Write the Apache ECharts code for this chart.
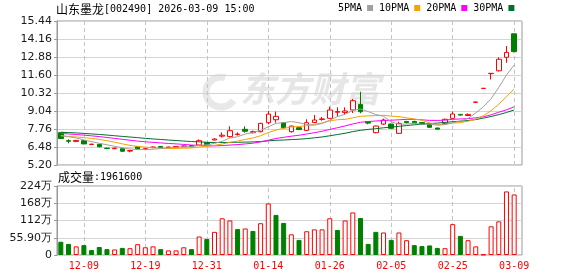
<!DOCTYPE html>
<html><head><meta charset="utf-8">
<script src="https://cdn.jsdelivr.net/npm/echarts@6/dist/echarts.min.js"></script>
<style>html,body{margin:0;padding:0;background:#fff}#c{width:578px;height:276px}</style>
</head><body><div id="c"></div>
<script>
const stockName = '山东墨龙';
const stockCode = '002490';
const timeStamp = '2026-03-09 15:00';
const maNames = ['5PMA', '10PMA', '20PMA', '30PMA'];
const maPeriods = [5, 10, 20, 30];
const priceTicks = { min: 5.20, max: 15.44, step: 1.28 };
const volumeTicks = { min: 0, max: 2236000, step: 559000 };

const dates = ['12-04','12-05','12-08','12-09','12-10','12-11','12-12','12-15','12-16','12-17',
  '12-18','12-19','12-22','12-23','12-24','12-25','12-26','12-29','12-30','12-31',
  '01-05','01-06','01-07','01-08','01-09','01-12','01-13','01-14','01-15','01-16',
  '01-19','01-20','01-21','01-22','01-23','01-26','01-27','01-28','01-29','01-30',
  '02-02','02-03','02-04','02-05','02-06','02-09','02-10','02-11','02-12','02-13',
  '02-24','02-25','02-26','02-27','03-02','03-03','03-04','03-05','03-06','03-09'];
const labelDates = ['12-09','12-19','12-31','01-14','01-26','02-05','02-25','03-09'];

const opens = [7.50,6.93,6.88,6.93,6.66,6.67,6.40,6.36,6.36,6.19,
  6.50,6.32,6.44,6.52,6.44,6.48,6.50,6.58,6.62,6.79,
  6.98,7.25,7.22,7.36,7.74,7.50,7.57,8.21,8.42,8.21,
  7.57,7.85,7.66,8.22,8.44,8.52,8.95,8.94,9.11,9.51,
  8.28,7.50,8.11,8.11,7.45,8.30,8.30,8.22,8.11,7.83,
  8.16,8.52,8.80,8.72,9.66,10.65,11.70,11.90,12.86,14.53];
const closes = [7.08,6.89,6.95,6.70,6.68,6.50,6.37,6.40,6.18,6.23,
  6.34,6.36,6.48,6.45,6.48,6.52,6.56,6.50,6.93,6.64,
  7.05,7.32,7.64,7.40,7.60,7.57,8.16,8.82,8.66,7.85,
  7.97,7.72,8.21,8.40,8.48,9.11,9.00,9.04,9.77,8.99,
  8.18,7.97,8.40,7.81,8.16,8.22,8.20,8.10,7.88,7.75,
  8.45,8.83,8.75,8.80,9.68,10.65,11.72,12.72,13.21,13.26];
const highs = [7.52,7.03,6.98,6.98,6.72,6.68,6.43,6.43,6.37,6.27,
  6.53,6.38,6.52,6.55,6.50,6.55,6.60,6.60,7.02,6.82,
  7.10,7.52,7.95,7.52,7.95,7.65,8.20,9.05,9.00,8.25,
  8.00,7.88,8.45,8.76,8.62,9.35,9.30,9.30,9.90,10.41,
  8.32,8.00,8.50,8.15,8.28,8.33,8.35,8.25,8.13,7.85,
  8.50,9.00,8.82,8.86,9.68,10.65,11.72,12.86,13.66,14.53];
const lows = [7.05,6.74,6.82,6.68,6.63,6.46,6.32,6.33,6.12,6.10,
  6.30,6.28,6.40,6.42,6.40,6.45,6.48,6.48,6.60,6.60,
  6.95,7.15,7.15,7.30,7.50,7.45,7.52,8.10,8.21,7.80,
  7.50,7.68,7.62,8.18,8.35,8.50,8.64,8.80,8.90,8.88,
  8.10,7.45,8.05,7.78,7.42,8.15,8.18,8.05,7.85,7.72,
  8.12,8.50,8.72,8.68,9.60,10.65,11.28,11.85,12.47,13.22];
// closes of the 29 sessions before the window, estimated from where the MA lines start at the left edge
const priorCloses = [7.55,7.70,7.82,7.75,7.60,7.68,7.80,7.62,7.58,7.70,
  7.85,7.72,7.60,7.66,7.55,7.70,7.62,7.50,7.58,7.52,
  7.40,7.28,7.20,7.25,7.17,7.30,7.42,7.38,7.30];
const volumes = [430000,360000,280000,320000,160000,260000,190000,180000,230000,220000,
  350000,250000,280000,190000,150000,150000,250000,190000,600000,520000,
  750000,1190000,1120000,840000,860000,780000,1030000,1670000,1300000,1040000,
  670000,490000,770000,830000,830000,1190000,810000,1120000,1380000,1200000,
  360000,750000,730000,490000,730000,480000,320000,290000,310000,230000,
  220000,1000000,620000,480000,280000,15000,930000,1090000,2060000,1961600];

const UP = '#ff0000', DOWN = '#008000';
const maColors = ['#a0a0a0', '#f4a300', '#ff00ff', '#00702f'];

const allCloses = priorCloses.concat(closes);
function movingAverage(n) {
  const off = priorCloses.length;
  return closes.map((_, i) => {
    let s = 0;
    for (let k = 0; k < n; k++) s += allCloses[off + i - k];
    return +(s / n).toFixed(3);
  });
}
const candleData = dates.map((_, i) => [opens[i], closes[i], lows[i], highs[i]]);
const volData = volumes.map((v, i) => {
  const prev = i === 0 ? priorCloses[priorCloses.length - 1] : closes[i - 1];
  const up = closes[i] >= prev;
  return { value: v, itemStyle: up ? { color: '#ffffff', borderColor: UP, borderWidth: 1 } : { color: DOWN, borderColor: DOWN, borderWidth: 1 } };
});
const isLabelIdx = (idx) => labelDates.indexOf(dates[idx]) >= 0;

const mono = "'DejaVu Sans Mono', monospace";
const cjk = "'Noto Sans CJK SC', sans-serif";
const volFmt = (v) => {
  if (v === 0) return '0';
  const w = v / 10000;
  return (w < 100 ? w.toFixed(2) : String(Math.round(w))) + '万';
};

const chart = echarts.init(document.getElementById('c'), null, { renderer: 'canvas' });
const hiddenValX = (g) => ({ type: 'value', gridIndex: g, min: 0, max: 1, show: false });
const vLines = (xi, yi) => ({
  type: 'line', name: 'vgrid' + xi, xAxisIndex: xi, yAxisIndex: yi, data: [], z: 1, silent: true,
  markLine: { silent: true, z: 1, symbol: ['none', 'none'], label: { show: false }, animation: false,
    lineStyle: { color: '#c4c4c4', type: [4, 3], width: 1 },
    data: labelDates.map((d) => ({ xAxis: d })) }
});
const frameY = (g, t, fmt) => ({
  type: 'value', gridIndex: g, min: t.min, max: t.max, interval: t.step,
  axisLine: { show: true, lineStyle: { color: '#999' } },
  axisTick: { show: true, length: 3, lineStyle: { color: '#999' } },
  axisLabel: { show: true, margin: 5, color: '#1a1a1a', fontFamily: "'DejaVu Sans', sans-serif", fontSize: 11, formatter: fmt, showMinLabel: true, showMaxLabel: true, hideOverlap: false },
  splitLine: { show: true, lineStyle: { color: '#d4d4d4', width: 1 } }
});
const richTitle = { a: { fontFamily: cjk, fontSize: 12, fontWeight: 'normal', color: '#000', lineHeight: 14 }, b: { fontFamily: mono, fontSize: 10, fontWeight: 'normal', color: '#000', lineHeight: 14 } };

const option = {
  animation: false,
  backgroundColor: '#ffffff',
  title: [
    { left: 56, top: 2, padding: 0, text: '{a|' + stockName + '}{b|[' + stockCode + '] ' + timeStamp + '}',
      textStyle: { fontWeight: 'normal', rich: richTitle } },
    { left: 58, top: 170, padding: 0, text: '{a|成交量}{b|:' + volumes[volumes.length - 1] + '}',
      textStyle: { fontWeight: 'normal', rich: richTitle } }
  ],
  legend: {
    left: 338, top: 3, orient: 'horizontal', icon: 'rect', align: 'right',
    itemWidth: 6, itemHeight: 6, itemGap: 6, padding: 0,
    data: maNames,
    textStyle: { fontFamily: mono, fontSize: 10, color: '#000' }
  },
  graphic: [
    { type: 'arc', z: 0, shape: { cx: 221, cy: 92, r: 15, startAngle: 0.6, endAngle: 5.0 }, style: { stroke: '#e8e8e8', lineWidth: 7, fill: null } },
    { type: 'text', z: 0, left: 240, top: 71, style: { text: '东方财富', fill: '#e6e6e6', font: 'italic bold 35px ' + cjk } }
  ],
  grid: [
    { left: 57, top: 21, width: 465, height: 144, show: true, borderColor: '#999', borderWidth: 1, containLabel: false, outerBoundsMode: 'none' },
    { left: 57, top: 21, width: 461, height: 144, containLabel: false, outerBoundsMode: 'none' },
    { left: 57, top: 186, width: 465, height: 69, show: true, borderColor: '#999', borderWidth: 1, containLabel: false, outerBoundsMode: 'none' },
    { left: 57, top: 186, width: 461, height: 69, containLabel: false, outerBoundsMode: 'none' }
  ],
  xAxis: [
    hiddenValX(0),
    { type: 'category', gridIndex: 1, data: dates, boundaryGap: true, axisLine: { show: false }, axisTick: { show: false }, axisLabel: { show: false }, splitLine: { show: false } },
    hiddenValX(2),
    { type: 'category', gridIndex: 3, data: dates, boundaryGap: true, axisLine: { show: false }, axisTick: { show: false },
      axisLabel: { show: true, interval: (i) => isLabelIdx(i), margin: 6, color: '#ff0000', fontFamily: mono, fontSize: 10, hideOverlap: false },
      splitLine: { show: false } }
  ],
  yAxis: [
    frameY(0, priceTicks, (v) => v.toFixed(2)),
    { type: 'value', gridIndex: 1, min: priceTicks.min, max: priceTicks.max, show: false, splitLine: { show: false } },
    frameY(2, volumeTicks, volFmt),
    { type: 'value', gridIndex: 3, min: volumeTicks.min, max: volumeTicks.max, show: false, splitLine: { show: false } }
  ],
  series: [
    vLines(1, 1),
    vLines(3, 3),
    { type: 'candlestick', name: 'K', xAxisIndex: 1, yAxisIndex: 1, data: candleData, barWidth: 5, z: 3,
      itemStyle: { color: '#ffffff', color0: DOWN, borderColor: UP, borderColor0: DOWN, borderWidth: 1 } },
    ...maPeriods.map((n, k) => ({
      type: 'line', name: maNames[k], xAxisIndex: 1, yAxisIndex: 1, data: movingAverage(n),
      showSymbol: false, symbol: 'none', smooth: false, z: 4 - k * 0.1,
      lineStyle: { color: maColors[k], width: 1 }, itemStyle: { color: maColors[k] }
    })),
    { type: 'bar', name: 'VOL', xAxisIndex: 3, yAxisIndex: 3, data: volData, barWidth: 5, z: 3 }
  ]
};
chart.setOption(option);
</script></body></html>
